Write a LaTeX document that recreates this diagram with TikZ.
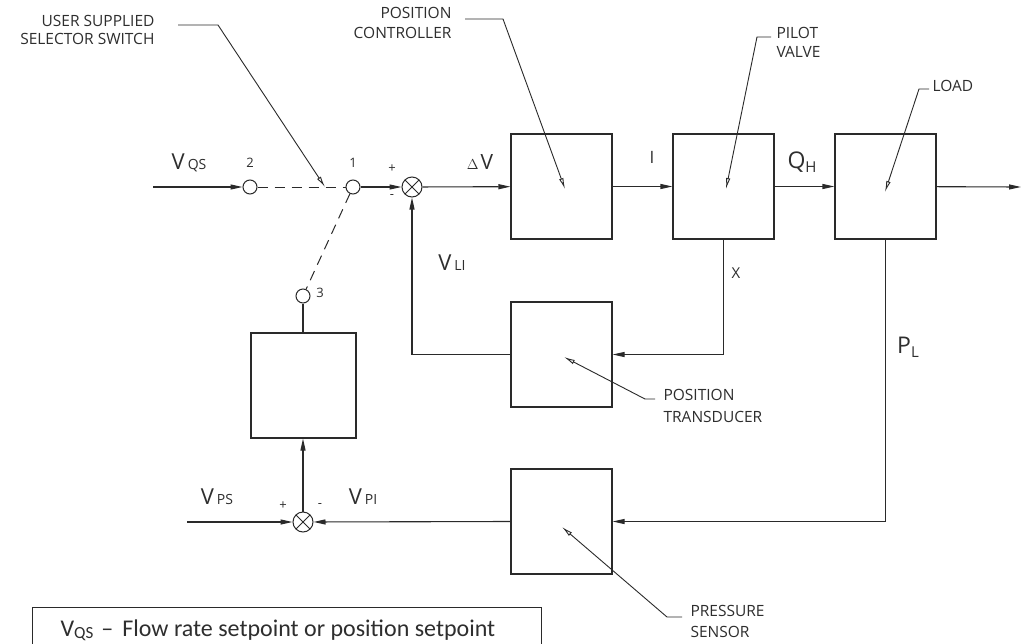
\documentclass[tikz,border=0pt]{standalone}
\usepackage{fontspec}
\setmainfont{Open Sans}
\newfontfamily\legendfont{Carlito}
\usetikzlibrary{arrows.meta,calc}
\definecolor{ink}{HTML}{2A2A2A}
\definecolor{txt}{HTML}{2E2E2E}
\newcommand{\sigl}[2]{{\fontsize{22}{22}\selectfont #1}\hspace{3pt}{\fontsize{14}{14}\selectfont #2}}
\begin{document}
\begin{tikzpicture}[x=1pt,y=-1pt,
  line width=1.1pt,
  blk/.style={draw=ink,line width=1.1pt,minimum width=101pt,minimum height=105pt,inner sep=0pt},
  sw/.style={circle,draw=ink,line width=1pt,minimum size=14pt,inner sep=0pt,fill=white},
  sumj/.style={circle,draw=ink,line width=1pt,minimum size=20pt,inner sep=0pt,fill=white,
    path picture={\draw[ink,line width=1pt] (path picture bounding box.north west)--(path picture bounding box.south east)
      (path picture bounding box.north east)--(path picture bounding box.south west);}},
  sig/.style={draw=ink,-{Triangle[length=12pt,width=5pt]}},
  wire/.style={draw=ink},
  swdash/.style={draw=ink,line width=1pt,dash pattern=on 10pt off 7pt},
  lead/.style={draw=ink,line width=0.9pt,-{Latex[open,length=11pt,width=4.5pt]}},
  lbl/.style={text=txt,font=\fontsize{15.5}{18}\selectfont,inner sep=0pt},
  sml/.style={text=txt,font=\fontsize{13}{13}\selectfont,inner sep=0pt},
  vlab/.style={text=txt,inner sep=0pt}
]
\useasboundingbox (0,0) rectangle (1023,643);
\fill[white] (0,0) rectangle (1023,643);

% blocks
\node[blk] (b1) at (561.5,186.5) {};
\node[blk] (b2) at (723.5,186.5) {};
\node[blk] (b3) at (885.5,186.5) {};
\node[blk] (b4) at (561.5,354.5) {};
\node[blk] (b5) at (561.5,521.5) {};
\node[blk,minimum width=105pt] (b6) at (303.5,385.5) {};

% switch contacts and summing junctions
\node[sw] (c2) at (250,187) {};
\node[sw] (c1) at (353,187) {};
\node[sw] (c3) at (303,296) {};
\node[sumj] (s1) at (412,187) {};
\node[sumj] (s2) at (303,522) {};

\coordinate (in1) at (153,187);
\coordinate (in2) at (187,522);
\coordinate (out) at (1021,187);

% signal lines
\draw[sig] (in1) -- (c2);
\draw[swdash] (c2) -- (c1);
\draw[swdash] (c1) -- (c3);
\draw[sig] (c1) -- (s1);
\draw[sig] (s1) -- (b1);
\draw[sig] (b1) -- (b2);
\draw[sig] (b2) -- (b3);
\draw[sig] (b3) -- (out);
\draw[sig] (b2.south) |- (b4.east);
\draw[sig] (b3.south) |- (b5.east);
\draw[sig] (b4.west) -| (s1.south);
\draw[wire] (c3) -- (c3 |- b6.north);
\draw[sig] (s2) -- (s2 |- b6.south);
\draw[sig] (in2) -- (s2);
\draw[sig] (b5.west) -- (s2);

% signal labels
\node[vlab] (lqs) at (189,163) {\sigl{V}{QS}};
\node[vlab] (ldv) at (480,162) {{\fontsize{14}{14}\selectfont $\Delta$}\hspace{2pt}{\fontsize{21}{21}\selectfont V}};
\node[vlab,font=\fontsize{17}{17}\selectfont] (li) at (652,157) {I};
\node[vlab] (lqh) at (802,162) {{\fontsize{23}{23}\selectfont Q}\raisebox{-4pt}{\fontsize{15}{15}\selectfont H}};
\node[vlab,font=\fontsize{15}{15}\selectfont] (lx) at (736,273) {X};
\node[vlab] (lpl) at (908,347) {{\fontsize{23}{23}\selectfont P}\raisebox{-4pt}{\fontsize{15}{15}\selectfont L}};
\node[vlab] (lli) at (452,263) {\sigl{V}{LI}};
\node[vlab] (lps) at (217,497) {\sigl{V}{PS}};
\node[vlab] (lpi) at (363,497) {\sigl{V}{PI}};

\node[sml] (n2) at (250,163) {2};
\node[sml] (n1) at (353,163) {1};
\node[sml] (n3) at (320,293) {3};
\node[sml] (p1) at (392,169) {+};
\node[sml] (m1) at (392,197) {-};
\node[sml] (p2) at (283,506) {+};
\node[sml] (m2) at (320,506) {-};

% callouts
\node[lbl,anchor=east,align=right] (tusr) at (155,30) {USER SUPPLIED\\SELECTOR SWITCH};
\coordinate (ku1) at (178,25); \coordinate (ku2) at (218,25); \coordinate (ku3) at (325,187);
\draw[lead] (ku1) -- (ku2) -- (ku3);

\node[lbl,anchor=east,align=right,font=\fontsize{15.5}{20}\selectfont] (tpc) at (452,23) {POSITION\\CONTROLLER};
\coordinate (kc1) at (465,19); \coordinate (kc2) at (503,19); \coordinate (kc3) at (565,189);
\draw[lead] (kc1) -- (kc2) -- (kc3);

\node[lbl,anchor=west,align=left,font=\fontsize{15.5}{19}\selectfont] (tpv) at (776,42) {PILOT\\VALVE};
\coordinate (kv1) at (771,37); \coordinate (kv2) at (757,37); \coordinate (kv3) at (726,189);
\draw[lead] (kv1) -- (kv2) -- (kv3);

\node[lbl,anchor=west] (tld) at (932,86) {LOAD};
\coordinate (kl1) at (929,89); \coordinate (kl2) at (919,89); \coordinate (kl3) at (885,192);
\draw[lead] (kl1) -- (kl2) -- (kl3);

\node[lbl,anchor=west,align=left,font=\fontsize{15.5}{22}\selectfont] (tpt) at (663,406) {POSITION\\TRANSDUCER};
\coordinate (kt1) at (655,399); \coordinate (kt2) at (645,399); \coordinate (kt3) at (564,357);
\draw[lead] (kt1) -- (kt2) -- (kt3);

\node[lbl,anchor=west,align=left,font=\fontsize{15.5}{21}\selectfont] (tps) at (690,621) {PRESSURE\\SENSOR};
\coordinate (ks1) at (682,617); \coordinate (ks2) at (667,617); \coordinate (ks3) at (562,527);
\draw[lead] (ks1) -- (ks2) -- (ks3);

% legend (box runs past the page edge, as in the reference)
\node[draw=ink,line width=1.1pt,anchor=north west,minimum width=509pt,minimum height=80pt,inner sep=0pt] (leg) at (32,607) {};
\node[text=txt,anchor=base west,inner sep=0pt,font=\legendfont\fontsize{24}{24}\selectfont] (legt) at (60,636)
  {V\raisebox{-2pt}{\fontsize{17}{17}\selectfont QS}\hspace{8pt}–\hspace{9pt}Flow rate setpoint or position setpoint};
\end{tikzpicture}
\end{document}
